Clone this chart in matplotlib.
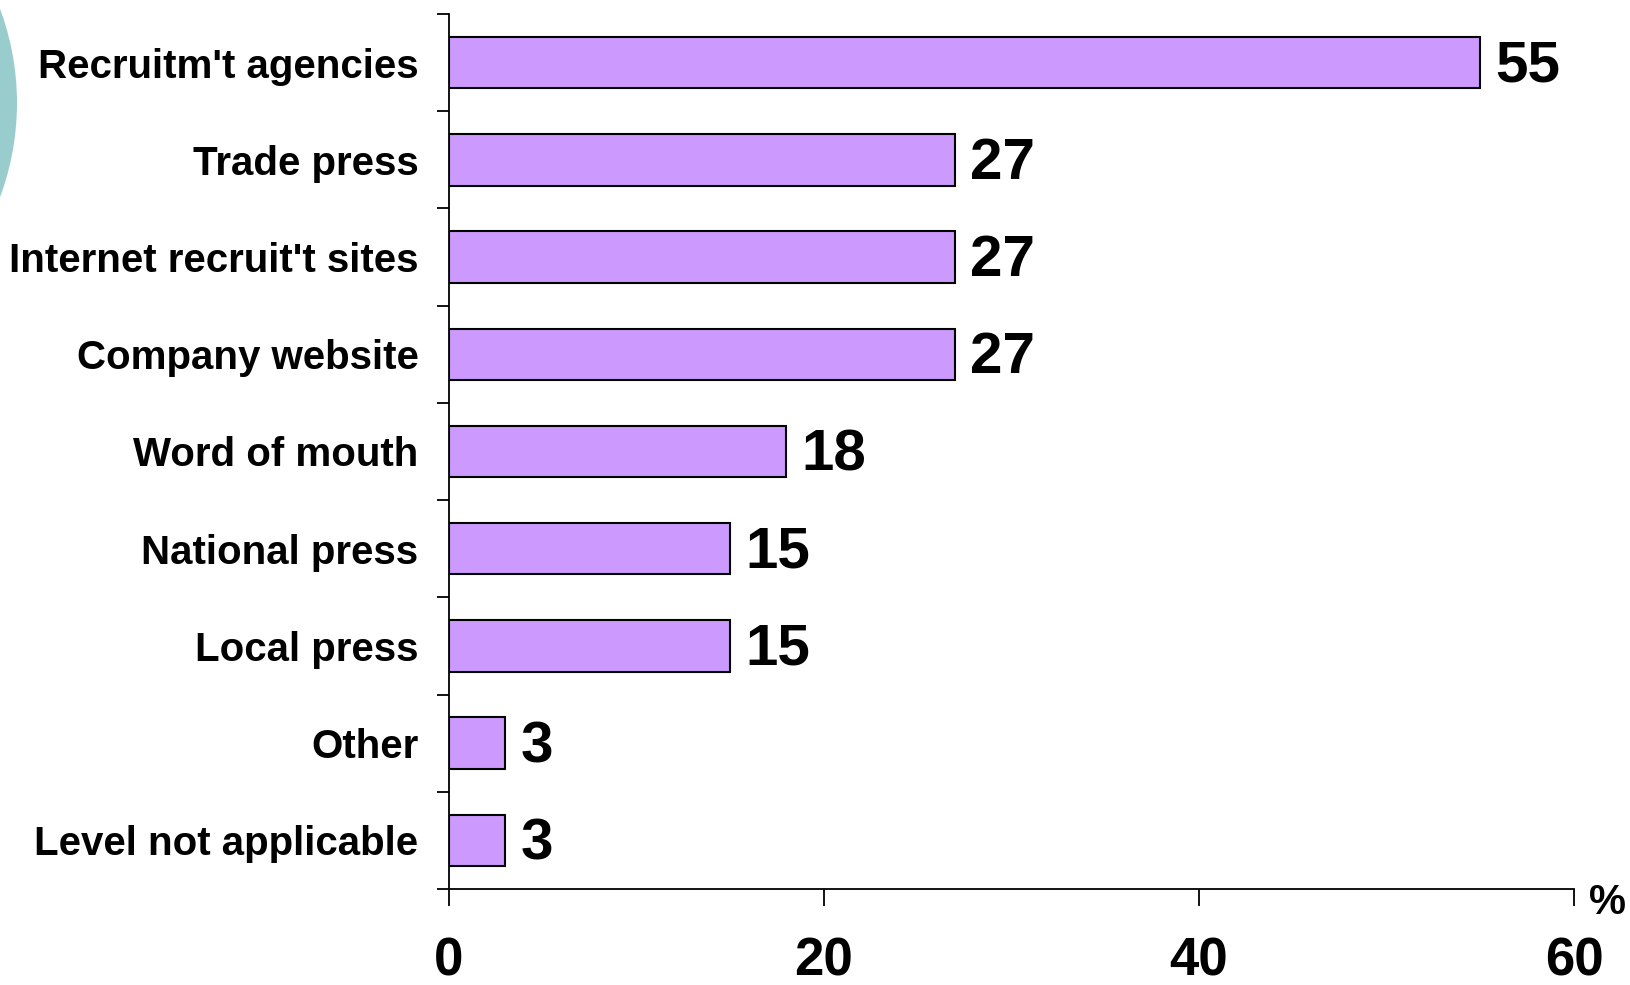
import numpy as np
import matplotlib
matplotlib.use("Agg")
import matplotlib.pyplot as plt
from matplotlib.patches import Circle
from matplotlib.transforms import IdentityTransform

categories = ["Recruitm't agencies", "Trade press", "Internet recruit't sites",
              "Company website", "Word of mouth", "National press",
              "Local press", "Other", "Level not applicable"]
values = [55, 27, 27, 27, 18, 15, 15, 3, 3]
xticks = [0, 20, 40, 60]

plt.rcParams['font.family'] = ['Liberation Sans', 'DejaVu Sans']
plt.rcParams['font.weight'] = 'bold'

W, H = 1631, 985
fig = plt.figure(figsize=[W / 100, H / 100], dpi=100)
ax = fig.add_axes([449 / W, 1 - 889 / H, (1574 - 449) / W, (889 - 14) / H])

# teal decoration circle at the left edge (pixel coords)
fig.patches.append(Circle((-253, H - 103), 270, transform=IdentityTransform(),
                          facecolor='#99CCCC', edgecolor='none', zorder=0))

y = np.arange(len(categories))
ax.barh(y, values, height=0.53, color='#CC99FF', edgecolor='black', linewidth=1.5, zorder=3)
for yi, v in zip(y, values):
    ax.text(v + 0.8, yi + 0.04, str(v), va='center', ha='left', fontsize=42, fontweight='bold')

ax.set_xlim(0, 60)
ax.set_ylim(len(categories) - 0.5, -0.5)
ax.set_xticks(xticks)
ax.set_xticklabels([str(t) for t in xticks], fontsize=38, fontweight='bold')
ax.set_yticks(y)
ax.set_yticklabels(categories, fontsize=29, fontweight='bold')
ax.set_yticks(np.arange(-0.5, len(categories)), minor=True)

ax.tick_params(axis='y', which='major', length=0, pad=22)
ax.tick_params(axis='y', which='minor', length=9, width=1.3, direction='out')
ax.tick_params(axis='x', which='major', length=12, width=1.3, direction='out', pad=22)
for s in ['top', 'right']:
    ax.spines[s].set_visible(False)
for s in ['left', 'bottom']:
    ax.spines[s].set_linewidth(1.3)

fig.text(1589 / W, 1 - 903 / H, '%', fontsize=30, fontweight='bold', va='center', ha='left')

fig.savefig('out.png', dpi=100)
